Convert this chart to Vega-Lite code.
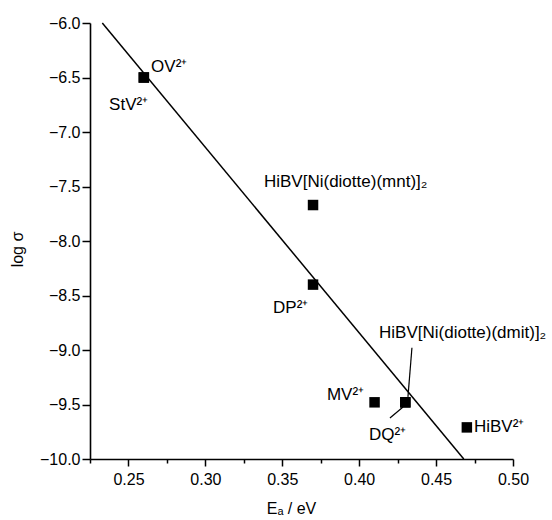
{
  "$schema": "https://vega.github.io/schema/vega-lite/v6.json",
  "width": 423,
  "height": 436,
  "autosize": "none",
  "padding": {"left": 90, "top": 23, "right": 39, "bottom": 61},
  "background": "white",
  "config": {
    "view": {"stroke": null},
    "font": "Liberation Sans",
    "axis": {
      "grid": false,
      "domainColor": "black",
      "domainWidth": 1.6,
      "tickColor": "black",
      "tickWidth": 1.5,
      "labelColor": "black",
      "labelFont": "Liberation Sans",
      "labelFontSize": 16,
      "titleFont": "Liberation Sans",
      "titleFontSize": 16,
      "titleFontWeight": "normal",
      "titleColor": "black",
      "labelFlush": false
    }
  },
  "resolve": {"axis": {"x": "independent"}},
  "datasets": {
    "points": [
      {"label": "OV²⁺", "x": 0.26, "y": -6.5, "lx": 0.2647, "ly": -6.45},
      {"label": "StV²⁺", "x": 0.26, "y": -6.5, "lx": 0.2374, "ly": -6.8},
      {"label": "HiBV[Ni(diotte)(mnt)]₂", "x": 0.37, "y": -7.67, "lx": 0.3381, "ly": -7.505},
      {"label": "DP²⁺", "x": 0.37, "y": -8.4, "lx": 0.344, "ly": -8.66},
      {"label": "MV²⁺", "x": 0.41, "y": -9.48, "lx": 0.379, "ly": -9.46},
      {"label": "HiBV[Ni(diotte)(dmit)]₂", "x": 0.43, "y": -9.48, "lx": 0.4129, "ly": -8.89},
      {"label": "DQ²⁺", "x": 0.43, "y": -9.48, "lx": 0.4064, "ly": -9.826},
      {"label": "HiBV²⁺", "x": 0.47, "y": -9.71, "lx": 0.4746, "ly": -9.752}
    ],
    "fit": [
      {"x": 0.233, "y": -6.0},
      {"x": 0.468, "y": -10.0}
    ],
    "leaders": [
      {"x": 0.4343, "y": -8.98, "x2": 0.4317, "y2": -9.43},
      {"x": 0.42, "y": -9.624, "x2": 0.4285, "y2": -9.523}
    ]
  },
  "layer": [
    {
      "data": {"name": "fit"},
      "mark": {"type": "line", "color": "black", "strokeWidth": 1.5},
      "encoding": {
        "x": {
          "field": "x", "type": "quantitative",
          "scale": {"domain": [0.225, 0.5], "nice": false, "zero": false},
          "axis": {
            "title": "Eₐ / eV",
            "orient": "bottom",
            "values": [0.25, 0.3, 0.35, 0.4, 0.45, 0.5],
            "format": ".2f",
            "tickSize": 7,
            "labelOverlap": false,
            "labelPadding": 5,
            "titlePadding": 13,
            "titleX": 201
          }
        },
        "y": {
          "field": "y", "type": "quantitative",
          "scale": {"domain": [-10, -6], "nice": false, "zero": false},
          "axis": {
            "title": "log σ",
            "values": [-10, -9.75, -9.5, -9.25, -9, -8.75, -8.5, -8.25, -8, -7.75, -7.5, -7.25, -7, -6.75, -6.5, -6.25, -6],
            "labelExpr": "abs(round(datum.value*100) % 50) == 0 ? format(datum.value, '.1f') : ''",
            "tickSize": {"condition": {"test": "abs(round(datum.value*100) % 50) == 0", "value": 8}, "value": 5},
            "labelOverlap": false,
            "labelPadding": 2,
            "titlePadding": 14,
            "titleY": 226
          }
        }
      }
    },
    {
      "data": {"name": "leaders"},
      "mark": {"type": "rule", "color": "black", "strokeWidth": 1.2},
      "encoding": {
        "x": {
          "field": "x", "type": "quantitative",
          "axis": {
            "title": null,
            "orient": "bottom",
            "values": [0.225, 0.275, 0.325, 0.375, 0.425, 0.475],
            "labels": false,
            "domain": false,
            "tickSize": 4
          }
        },
        "y": {"field": "y", "type": "quantitative"},
        "x2": {"field": "x2"},
        "y2": {"field": "y2"}
      }
    },
    {
      "data": {"name": "points"},
      "mark": {"type": "point", "shape": "square", "filled": true, "color": "black", "opacity": 1, "size": 110},
      "encoding": {
        "x": {"field": "x", "type": "quantitative", "axis": null},
        "y": {"field": "y", "type": "quantitative"}
      }
    },
    {
      "data": {"name": "points"},
      "mark": {"type": "text", "align": "left", "baseline": "alphabetic", "font": "Liberation Sans", "fontSize": 17, "color": "black"},
      "encoding": {
        "x": {"field": "lx", "type": "quantitative", "axis": null},
        "y": {"field": "ly", "type": "quantitative"},
        "text": {"field": "label"}
      }
    }
  ]
}
